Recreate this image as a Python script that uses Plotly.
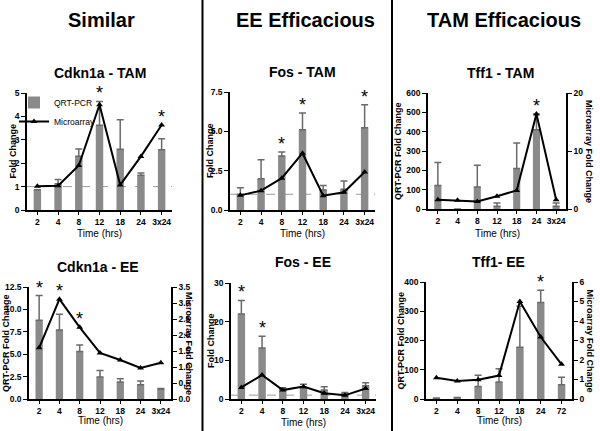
import plotly.graph_objects as go

# ---------------- data ----------------
times_a = ["2", "4", "8", "12", "18", "24", "3x24"]
times_b = ["2", "4", "8", "12", "18", "24", "72"]

cdkn_tam_qpcr = [0.87, 1.12, 2.30, 3.62, 2.60, 1.48, 2.58]
cdkn_tam_sem = [0.0, 0.18, 0.31, 1.02, 1.26, 0.10, 0.47]
cdkn_tam_array = [1.01, 1.04, 1.90, 4.50, 1.07, 2.29, 3.63]
cdkn_tam_stars = [3, 6]

cdkn_ee_qpcr = [8.8, 7.7, 5.3, 2.45, 1.9, 1.6, 1.1]
cdkn_ee_sem = [2.75, 1.75, 0.72, 0.72, 0.37, 0.42, 0.06]
cdkn_ee_array = [1.60, 3.12, 2.24, 1.44, 1.22, 0.97, 1.13]
cdkn_ee_stars = [0, 1, 2]

fos_tam_qpcr = [1.00, 1.98, 3.44, 5.10, 1.27, 1.32, 5.23]
fos_tam_sem = [0.42, 1.21, 0.24, 1.06, 0.28, 0.53, 1.46]
fos_tam_array = [0.93, 1.23, 2.02, 3.61, 0.91, 1.13, 2.42]
fos_tam_stars = [2, 3, 6]

fos_ee_qpcr = [22.0, 13.2, 2.5, 3.0, 2.3, 1.55, 3.4]
fos_ee_sem = [3.5, 3.0, 0.4, 0.8, 0.9, 0.15, 0.8]
fos_ee_array = [3.0, 6.2, 2.3, 3.2, 1.5, 0.95, 2.7]
fos_ee_stars = [0, 1]

tff_tam_qpcr = [122, 0, 114, 14, 209, 410, 14]
tff_tam_sem = [118, 0, 112, 17, 132, 81, 17]
tff_tam_array = [1.6, 1.5, 1.3, 2.2, 3.2, 16.4, 1.6]
tff_tam_stars = [5]

tff_ee_qpcr = [3, 5, 43, 58, 177, 330, 49]
tff_ee_sem = [0, 0, 38, 45, 140, 42, 25]
tff_ee_array = [1.09, 0.92, 0.99, 1.20, 5.00, 3.18, 1.78]
tff_ee_stars = [5]

group_titles = ["Similar", "EE Efficacious", "TAM Efficacious"]

# ---------------- layout helpers ----------------
W, H = 600, 431
def px(x):
    return x / W
def py(y):
    return 1 - y / H

FONT = "Liberation Sans, Arial"
BAR = "#8a8a8a"
ERR = "#6a6a6a"

panels = [
    dict(name="Cdkn1a - TAM", cats=times_a, q=cdkn_tam_qpcr, e=cdkn_tam_sem, a=cdkn_tam_array,
         stars=cdkn_tam_stars, xd=(27, 172), yd=(93, 210), yr=5, dt=1, fmt="d",
         right=None, ylab="Fold Change", ylx=12, dashed=True, title_xy=(100, 73), xt_y=233, legend=True),
    dict(name="Cdkn1a - EE", cats=times_a, q=cdkn_ee_qpcr, e=cdkn_ee_sem, a=cdkn_ee_array,
         stars=cdkn_ee_stars, xd=(29, 171), yd=(287, 399), yr=12.5, dt=2.5, fmt=".1f",
         right=(3.5, 0.5, ".1f"), ylab="QRT-PCR Fold Change", ylx=6, rlx=189, dashed=False,
         title_xy=(98, 267), xt_y=420, legend=False),
    dict(name="Fos - TAM", cats=times_a, q=fos_tam_qpcr, e=fos_tam_sem, a=fos_tam_array,
         stars=fos_tam_stars, xd=(230, 375), yd=(92, 210), yr=7.5, dt=2.5, fmt=".1f",
         right=None, ylab="Fold Change", ylx=210, dashed=True, title_xy=(302, 72), xt_y=233, legend=False),
    dict(name="Fos - EE", cats=times_a, q=fos_ee_qpcr, e=fos_ee_sem, a=fos_ee_array,
         stars=fos_ee_stars, xd=(231, 376), yd=(283, 399), yr=30, dt=10, fmt="d",
         right=None, ylab="Fold Change", ylx=211, dashed=True, title_xy=(303, 262), xt_y=422, legend=False),
    dict(name="Tff1 - TAM", cats=times_a, q=tff_tam_qpcr, e=tff_tam_sem, a=tff_tam_array,
         stars=tff_tam_stars, xd=(428, 566), yd=(93, 209), yr=600, dt=100, fmt="d",
         right=(20, 10, "d"), ylab="QRT-PCR Fold Change", ylx=398, rlx=589, dashed=False,
         title_xy=(500, 73), xt_y=233, legend=False),
    dict(name="Tff1- EE", cats=times_b, q=tff_ee_qpcr, e=tff_ee_sem, a=tff_ee_array,
         stars=tff_ee_stars, xd=(426, 572), yd=(282, 399), yr=400, dt=100, fmt="d",
         right=(6, 1, "d"), ylab="QRT-PCR Fold Change", ylx=400, rlx=590, dashed=False,
         title_xy=(498, 262), xt_y=420, legend=False),
]

fig = go.Figure()
annotations = []
shapes = []
layout_axes = {}
right_idx = 7

for i, p in enumerate(panels, start=1):
    xa = "x" if i == 1 else f"x{i}"
    ya = "y" if i == 1 else f"y{i}"
    xkey = "xaxis" if i == 1 else f"xaxis{i}"
    ykey = "yaxis" if i == 1 else f"yaxis{i}"

    tickfont = dict(family=FONT, size=8.5, color="black", weight="bold")
    layout_axes[xkey] = dict(
        domain=[px(p["xd"][0]), px(p["xd"][1])], anchor=ya, type="category",
        categoryorder="array", categoryarray=p["cats"], range=[-0.5, 6.5],
        showline=True, linecolor="black", linewidth=1.5, ticks="outside", ticklen=3,
        tickcolor="black", tickfont=tickfont, showgrid=False, zeroline=False,
        automargin=False, fixedrange=True)
    layout_axes[ykey] = dict(
        domain=[py(p["yd"][1]), py(p["yd"][0])], anchor=xa, range=[0, p["yr"]],
        dtick=p["dt"], tick0=0, tickformat=p["fmt"],
        showline=True, linecolor="black", linewidth=1.5, ticks="outside", ticklen=4,
        tickcolor="black", tickfont=tickfont, showgrid=False, zeroline=False, automargin=False)

    # bars
    fig.add_trace(go.Bar(
        x=p["cats"], y=p["q"], xaxis=xa, yaxis=ya, width=0.36,
        marker=dict(color=BAR, line=dict(width=0)), name="QRT-PCR",
        showlegend=p["legend"], legendgroup="q",
        error_y=dict(type="data", array=p["e"], arrayminus=[0] * len(p["e"]),
                     symmetric=False, color=ERR, thickness=1.5, width=3.5)))

    # line
    if p["right"] is not None:
        rr, rdt, rfmt = p["right"]
        rkey = f"yaxis{right_idx}"
        lya = f"y{right_idx}"
        layout_axes[rkey] = dict(
            overlaying=ya, anchor=xa, side="right", range=[0, rr], dtick=rdt, tick0=0,
            tickformat=rfmt, showline=True, linecolor="black", linewidth=1.5,
            ticks="outside", ticklen=4, tickcolor="black", tickfont=tickfont,
            showgrid=False, zeroline=False, automargin=False)
        right_idx += 1
        scale = p["yr"] / rr
    else:
        lya = ya
        scale = 1.0
    fig.add_trace(go.Scatter(
        x=p["cats"], y=p["a"], xaxis=xa, yaxis=lya, mode="lines+markers",
        line=dict(color="black", width=2),
        marker=dict(symbol="triangle-up", size=6, color="black"),
        name="Microarray", showlegend=p["legend"], legendgroup="a"))

    # dashed reference line at fold change 1
    if p["dashed"]:
        shapes.append(dict(type="line", xref=f"{xa} domain", yref=ya, x0=0, x1=1, y0=1, y1=1,
                           line=dict(color="#9a9a9a", width=1, dash="dash"), layer="below"))

    # significance stars (x given as category index)
    for k in p["stars"]:
        top = max(p["q"][k] + p["e"][k], p["a"][k] * scale)
        annotations.append(dict(x=k, y=top, xref=xa, yref=ya, text="*",
                                showarrow=False, yanchor="bottom", yshift=-4,
                                font=dict(family="Liberation Sans, Arial", size=18, color="black")))

    # panel title
    tx, ty = p["title_xy"]
    annotations.append(dict(x=px(tx), y=py(ty), xref="paper", yref="paper", text=p["name"],
                            showarrow=False, xanchor="center", yanchor="middle",
                            font=dict(family=FONT, size=14, color="black", weight="bold")))
    # x title
    xc = (p["xd"][0] + p["xd"][1]) / 2
    annotations.append(dict(x=px(xc), y=py(p["xt_y"]), xref="paper", yref="paper", text="Time (hrs)",
                            showarrow=False, xanchor="center", yanchor="middle",
                            font=dict(family=FONT, size=10, color="black")))
    # y titles
    yc = (p["yd"][0] + p["yd"][1]) / 2
    annotations.append(dict(x=px(p["ylx"]), y=py(yc), xref="paper", yref="paper", text=p["ylab"],
                            showarrow=False, textangle=-90, xanchor="center", yanchor="middle",
                            font=dict(family=FONT, size=9, color="black", weight="bold")))
    if p["right"] is not None:
        annotations.append(dict(x=px(p["rlx"]), y=py(yc), xref="paper", yref="paper",
                                text="Microarray Fold Change", showarrow=False, textangle=90,
                                xanchor="center", yanchor="middle",
                                font=dict(family=FONT, size=9, color="black", weight="bold")))

# group headers
for txt, cx in zip(group_titles, [101, 305, 504]):
    annotations.append(dict(x=px(cx), y=py(20), xref="paper", yref="paper", text=txt,
                            showarrow=False, xanchor="center", yanchor="middle",
                            font=dict(family=FONT, size=20, color="black", weight="bold")))

# dividers
for dx in [202.5, 392]:
    shapes.append(dict(type="line", xref="paper", yref="paper", x0=px(dx), x1=px(dx), y0=0, y1=1,
                       line=dict(color="black", width=2)))

fig.update_layout(
    width=W, height=H, margin=dict(l=0, r=0, t=0, b=0, autoexpand=False),
    plot_bgcolor="white", paper_bgcolor="white",
    barmode="overlay", showlegend=True,
    legend=dict(x=px(14), y=py(88), xanchor="left", yanchor="top", bgcolor="rgba(0,0,0,0)",
                font=dict(family=FONT, size=8.5, color="black"), tracegroupgap=0,
                itemwidth=30, traceorder="normal"),
    annotations=annotations, shapes=shapes,
    **layout_axes)

fig.write_html("out.html", config={"displayModeBar": False},
               post_script="document.body.style.margin='0';document.body.style.overflow='hidden';")
